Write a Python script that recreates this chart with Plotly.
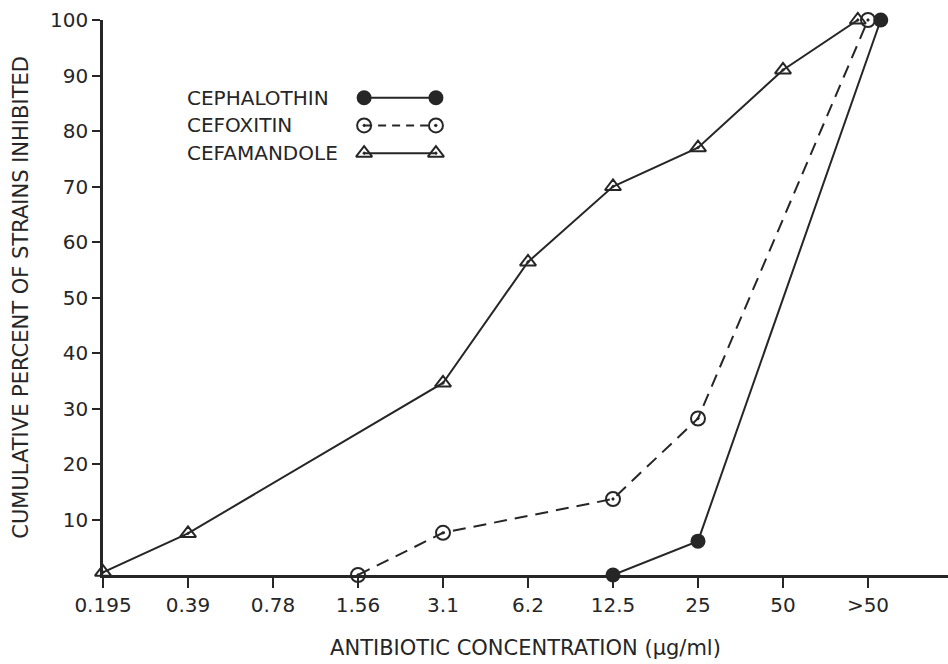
import plotly.graph_objects as go

categories = ["0.195", "0.39", "0.78", "1.56", "3.1", "6.2", "12.5", "25", "50", ">50"]

# x positions are category indices; the three >50 points are slightly staggered as in the original
cephalothin_x = [6, 7, 9.15]
cephalothin_y = [0, 6.1, 100]

cefoxitin_x = [3, 4, 6, 7, 9.0]
cefoxitin_y = [0, 7.6, 13.7, 28.2, 100]

cefamandole_x = [0, 1, 4, 5, 6, 7, 8, 8.88]
cefamandole_y = [0.5, 7.5, 34.6, 56.4, 70, 77, 91, 100]

y_ticks = [10, 20, 30, 40, 50, 60, 70, 80, 90, 100]

legend_names = ["CEPHALOTHIN", "CEFOXITIN", "CEFAMANDOLE"]

INK = "#262626"
FONT = "DejaVu Sans"

fig = go.Figure()

fig.add_trace(go.Scatter(
    x=cefamandole_x, y=cefamandole_y, mode="lines+markers", cliponaxis=False,
    line=dict(color=INK, width=2),
    marker=dict(symbol="triangle-up-open-dot", size=14, color=INK, line=dict(width=2, color=INK)),
    showlegend=False))
fig.add_trace(go.Scatter(
    x=cefoxitin_x, y=cefoxitin_y, mode="lines+markers", cliponaxis=False,
    line=dict(color=INK, width=2, dash="13px,8px"),
    marker=dict(symbol="circle-open-dot", size=14, color=INK, line=dict(width=2, color=INK)),
    showlegend=False))
fig.add_trace(go.Scatter(
    x=cephalothin_x, y=cephalothin_y, mode="lines+markers", cliponaxis=False,
    line=dict(color=INK, width=2),
    marker=dict(symbol="circle", size=15, color=INK),
    showlegend=False))

# manual legend on an overlay axis (0..1 units)
leg_styles = [
    dict(line=dict(color=INK, width=2), marker=dict(symbol="circle", size=15, color=INK)),
    dict(line=dict(color=INK, width=2, dash="8px,6px"),
         marker=dict(symbol="circle-open-dot", size=14, color=INK, line=dict(width=2, color=INK))),
    dict(line=dict(color=INK, width=2),
         marker=dict(symbol="triangle-up-open-dot", size=14, color=INK, line=dict(width=2, color=INK))),
]
leg_y = [0.86, 0.81, 0.76]
for name, yy, st in zip(legend_names, leg_y, leg_styles):
    fig.add_trace(go.Scatter(x=[0.309, 0.394], y=[yy, yy], mode="lines+markers",
                             xaxis="x2", yaxis="y2", showlegend=False, cliponaxis=False, **st))
    fig.add_annotation(x=0.097, y=yy, xref="x2", yref="y2", text=name, showarrow=False,
                       xanchor="left", yanchor="middle",
                       font=dict(family=FONT, size=20, color=INK))

# y-axis title placed as rotated annotation (sits close to the page edge as in the original)
fig.add_annotation(x=-0.098, y=0.5, xref="paper", yref="paper",
                   text="CUMULATIVE PERCENT OF STRAINS INHIBITED", textangle=-90,
                   showarrow=False, xanchor="center", yanchor="middle",
                   font=dict(family=FONT, size=21, color=INK))

fig.update_layout(
    width=948, height=664,
    margin=dict(l=103, r=0, t=20, b=89),
    paper_bgcolor="white", plot_bgcolor="white",
    font=dict(family=FONT, size=20, color=INK),
    xaxis=dict(
        range=[0, 845 / 85], tickmode="array", tickvals=list(range(len(categories))),
        ticktext=categories, showgrid=False, zeroline=False,
        showline=True, linecolor=INK, linewidth=2.5,
        ticks="outside", ticklen=10, tickwidth=2, tickcolor=INK,
        tickfont=dict(family=FONT, size=20, color=INK),
        title=dict(text="ANTIBIOTIC CONCENTRATION (μg/ml)", standoff=25,
                   font=dict(family=FONT, size=21, color=INK)),
    ),
    yaxis=dict(
        range=[0, 100], tickmode="array", tickvals=y_ticks,
        ticktext=[str(v) for v in y_ticks], showgrid=False, zeroline=False,
        showline=True, linecolor=INK, linewidth=2.5,
        ticks="outside", ticklen=8, tickwidth=2, tickcolor=INK,
        tickfont=dict(family=FONT, size=20, color=INK),
    ),
    xaxis2=dict(domain=[0, 1], range=[0, 1], overlaying="x", visible=False, anchor="y2"),
    yaxis2=dict(domain=[0, 1], range=[0, 1], overlaying="y", visible=False, anchor="x2"),
)

fig.write_html("out.html")
